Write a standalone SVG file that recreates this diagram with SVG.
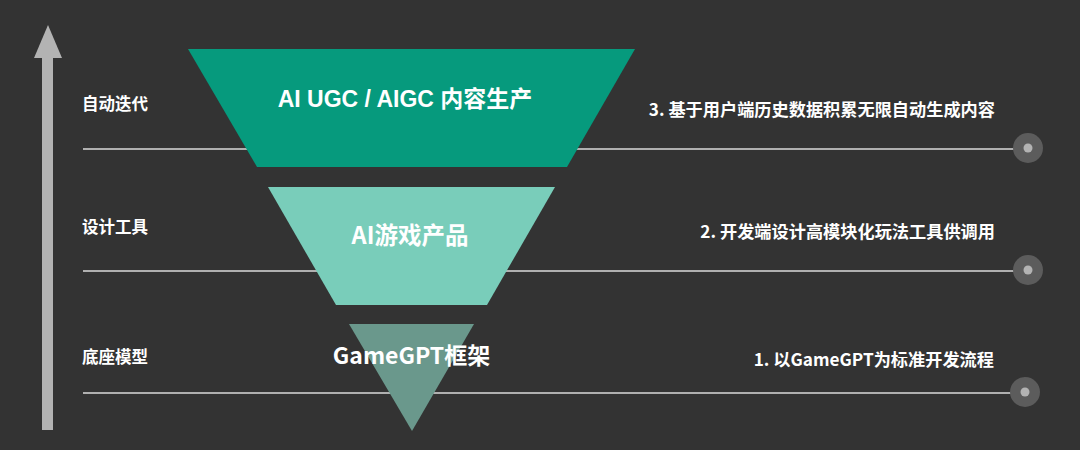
<svg xmlns="http://www.w3.org/2000/svg" width="1080" height="450" viewBox="0 0 1080 450">
<style>
.lbl{font-family:"Noto Sans CJK SC","Noto Sans",sans-serif;font-size:16.5px;font-weight:bold;fill:#ffffff}
.rl{font-size:17.2px;text-anchor:end}
.ttl{font-family:"Liberation Sans","Noto Sans CJK SC",sans-serif;font-weight:bold;fill:#ffffff;text-anchor:middle}
.gl{stroke:#b0b0b0;stroke-width:2}
.ring{fill:#5c5c5c}
.dot{fill:#b3b3b3}
</style>
<rect width="1080" height="450" fill="#333333"/>
<g id="axis">
<rect x="42" y="57" width="11" height="373" fill="#b3b3b3"/>
<polygon points="48,25 62,58 34,58" fill="#b3b3b3"/>
</g>
<g id="connectors">
<line class="gl" x1="83" y1="149" x2="1028" y2="149"/>
<line class="gl" x1="83" y1="271" x2="1028" y2="271"/>
<line class="gl" x1="83" y1="393" x2="1026" y2="393"/>
</g>
<g id="markers">
<circle class="ring" cx="1028" cy="148" r="15"/><circle class="dot" cx="1028" cy="148" r="4.5"/>
<circle class="ring" cx="1028" cy="270" r="15"/><circle class="dot" cx="1028" cy="270" r="4.5"/>
<circle class="ring" cx="1025" cy="392" r="15"/><circle class="dot" cx="1025" cy="392" r="4.5"/>
</g>
<g id="level3">
<polygon points="188,49 635,49 567,167 257,167" fill="#069a7d"/>
<text class="ttl" x="405" y="107" font-size="23">AI UGC / AIGC 内容生产</text>
</g>
<g id="level2">
<polygon points="268,187 555,187 487,305 336,305" fill="#79cdba"/>
<text class="ttl" x="410" y="244" font-size="23.5" style="font-family:'Noto Sans CJK SC',sans-serif">AI游戏产品</text>
</g>
<g id="level1">
<polygon points="349,324 474,324 412,431" fill="#6a988c"/>
<text class="ttl" x="411.5" y="364" font-size="23" style="font-family:'Noto Sans CJK SC',sans-serif">GameGPT框架</text>
</g>
<g id="left-labels">
<text class="lbl" x="82" y="110">自动迭代</text>
<text class="lbl" x="82" y="233">设计工具</text>
<text class="lbl" x="82" y="363">底座模型</text>
</g>
<g id="right-labels">
<text class="lbl rl" x="995" y="116">3. 基于用户端历史数据积累无限自动生成内容</text>
<text class="lbl rl" x="995" y="238">2. 开发端设计高模块化玩法工具供调用</text>
<text class="lbl rl" x="994" y="366">1. 以GameGPT为标准开发流程</text>
</g>
</svg>
